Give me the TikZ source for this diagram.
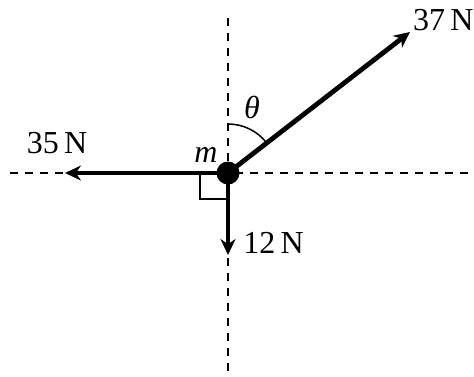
\documentclass[tikz,border=0pt]{standalone}
\usepackage{fontspec}
\setmainfont{Liberation Serif}
\usetikzlibrary{arrows.meta}
\begin{document}
\begin{tikzpicture}[
      x=0.5pt, y=0.5pt,
      every node/.style={font=\fontsize{16}{19}\selectfont, inner sep=1pt},
      axis/.style={dashed, dash pattern=on 4pt off 3.5pt, line width=0.75pt},
      force/.style={-{Stealth[length=8pt, width=7.5pt]}, line width=2.4pt},
      thinline/.style={line width=0.75pt},
      mass/.style={circle, fill=black, minimum size=11.5pt, inner sep=0pt},
    ]
    \useasboundingbox (0,0) rectangle (474,376);
    % Axes through the mass
    \node[mass] (m) at (228,203) {};
    \coordinate (axL) at (10,203);
    \coordinate (axR) at (474,203);
    \coordinate (axT) at (228,358);
    \coordinate (axB) at (228,0);
    \draw[axis] (axL) -- (axR);
    \draw[axis] (axT) -- (axB);
    % Right angle mark and angle arc
    \draw[thinline] (200,203) -- (200,177) -- (228,177);
    \draw[thinline] (228,252) arc[start angle=90, end angle=38, radius=49];
    % Forces
    \coordinate (tipA) at (410,344);
    \coordinate (tipB) at (65,203);
    \coordinate (tipC) at (228,121);
    \draw[force] (m.center) -- (tipA);
    \draw[force] (m.center) -- (tipB);
    \draw[force] (m.center) -- (tipC);
    % Labels
    \node[anchor=east, inner sep=0pt] (lA) at (474,356) {37\,N};
    \node (lB) at (57,233) {35\,N};
    \node[anchor=west] (lC) at (241,133) {12\,N};
    \node (theta) at (252,269) {\textit{θ}};
    \node (lm) at (206,221) {\textit{m}};
\end{tikzpicture}
\end{document}
